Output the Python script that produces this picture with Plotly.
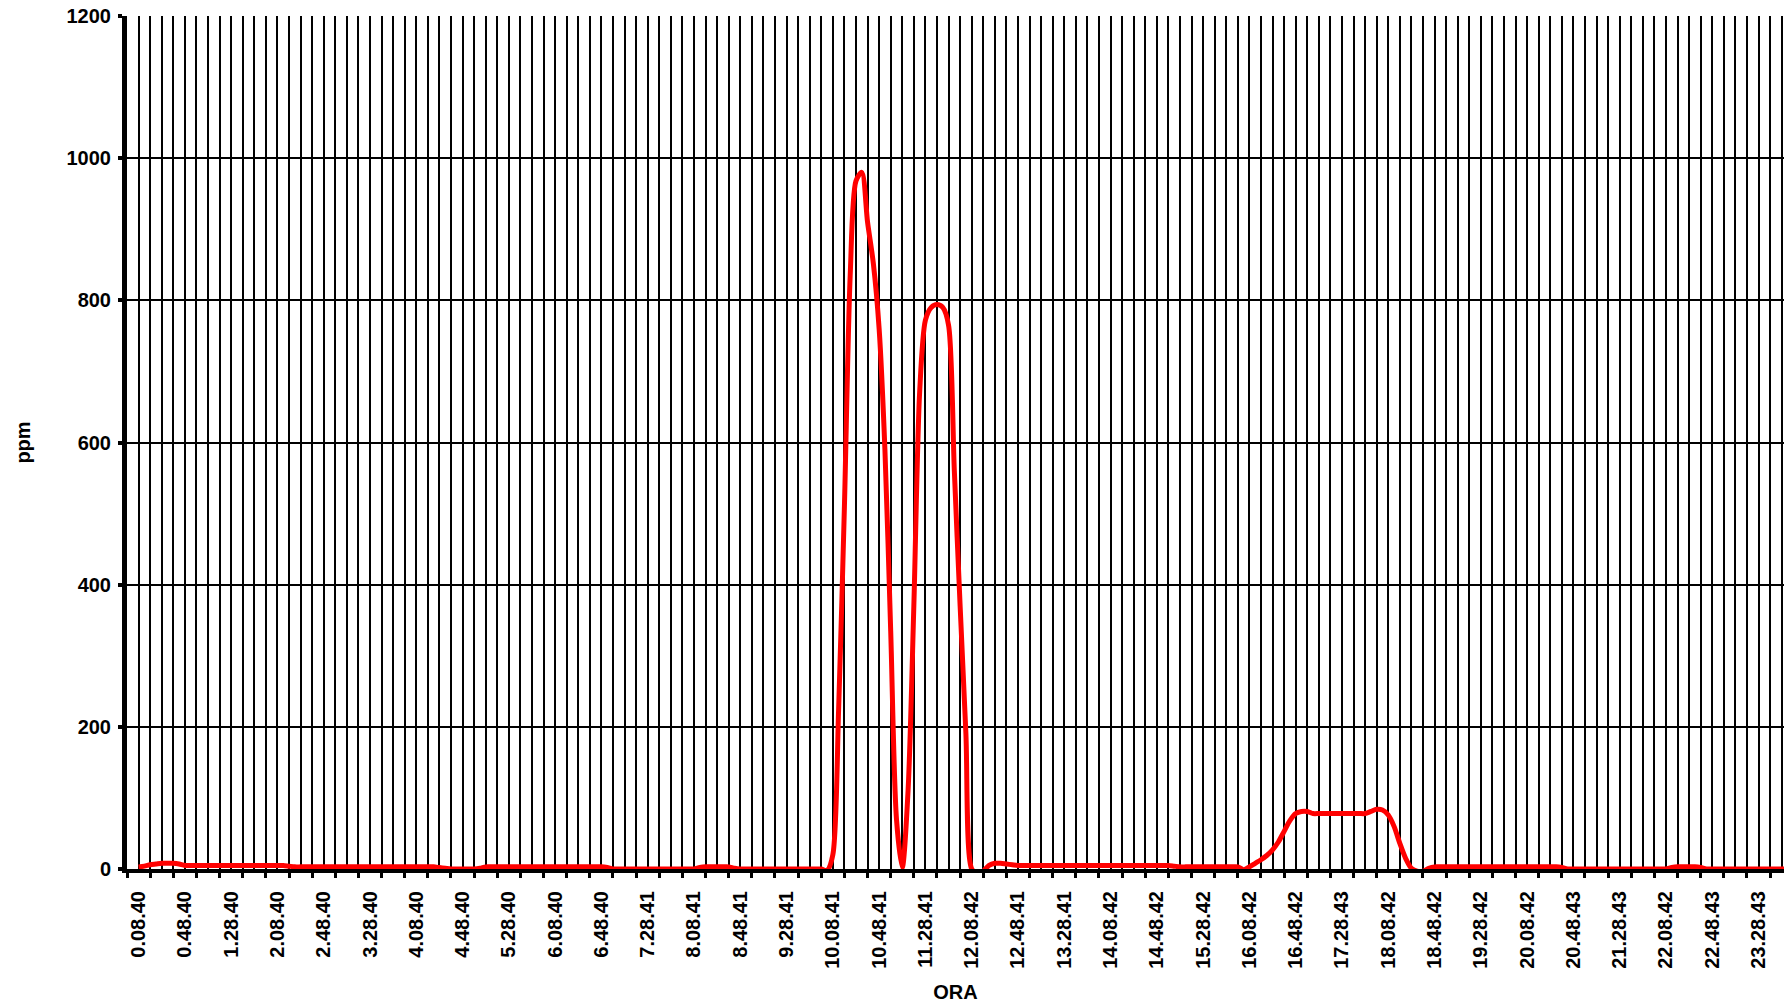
import numpy as np
import plotly.graph_objects as go

# x-axis tick labels (one every 40 minutes, starting at 0.08.40)
tick_labels = [
    "0.08.40", "0.48.40", "1.28.40", "2.08.40", "2.48.40", "3.28.40",
    "4.08.40", "4.48.40", "5.28.40", "6.08.40", "6.48.40", "7.28.41",
    "8.08.41", "8.48.41", "9.28.41", "10.08.41", "10.48.41", "11.28.41",
    "12.08.42", "12.48.41", "13.28.41", "14.08.42", "14.48.42", "15.28.42",
    "16.08.42", "16.48.42", "17.28.43", "18.08.42", "18.48.42", "19.28.42",
    "20.08.42", "20.48.43", "21.28.43", "22.08.42", "22.48.43", "23.28.43",
]

# ppm readings, one every 5 minutes from 0.08.40 (12 per row = 1 hour)
ppm = [
    3, 4, 6, 7, 8, 8, 8, 7, 5, 5, 5, 5,
    5, 5, 5, 5, 5, 5, 5, 5, 5, 5, 5, 5,
    5, 5, 4, 3, 3, 3, 3, 3, 3, 3, 3, 3,
    3, 3, 3, 3, 3, 3, 3, 3, 3, 3, 3, 3,
    3, 3, 3, 3, 2, 1, 0, 0, 0, 0, 0, 1,
    3, 3, 3, 3, 3, 3, 3, 3, 3, 3, 3, 3,
    3, 3, 3, 3, 3, 3, 3, 3, 3, 2, 0, 0,
    0, 0, 0, 0, 0, 0, 0, 0, 0, 0, 0, 0,
    0, 2, 3, 3, 3, 3, 3, 1, 0, 0, 0, 0,
    0, 0, 0, 0, 0, 0, 0, 0, 0, 0, 0, -2,
    20, 225, 510, 835, 968, 980, 910, 852, 760, 590, 335, 70,
    2, 110, 370, 670, 772, 790, 794, 790, 765, 560, 370, 190,
    0, -6, -3, 5, 8, 8, 7, 6, 5, 5, 5, 5,
    5, 5, 5, 5, 5, 5, 5, 5, 5, 5, 5, 5,
    5, 5, 5, 5, 5, 5, 5, 5, 5, 5, 5, 4,
    3, 3, 3, 3, 3, 3, 3, 3, 3, 3, 3, -1,
    3, 8, 13, 19, 27, 38, 53, 68, 78, 81, 81, 78,
    78, 78, 78, 78, 78, 78, 78, 78, 78, 81, 84, 83,
    76, 60, 36, 15, 1, -3, -3, 1, 3, 3, 3, 3,
    3, 3, 3, 3, 3, 3, 3, 3, 3, 3, 3, 3,
    3, 3, 3, 3, 3, 3, 2, 0, 0, 0, 0, 0,
    0, 0, 0, 0, 0, 0, 0, 0, 0, 0, 0, 0,
    0, 2, 3, 3, 3, 3, 2, 0, 0, 0, 0, 0,
    0, 0, 0, 0, 0, 0, 0, 0, 0, 0, 0, 0,
]

sample_step = 5    # minutes between readings
label_step = 40    # minutes between labels
tick_step = 20     # minutes between tick marks

x = np.arange(len(ppm)) * sample_step

major_vals = np.arange(0, len(tick_labels) * label_step, tick_step)
major_text = [tick_labels[int(v // label_step)] if v % label_step == 0 else "" for v in major_vals]
minor_vals = np.arange(-tick_step / 2, len(tick_labels) * label_step + tick_step, tick_step)

FONT = "Liberation Sans, Arial, sans-serif"

fig = go.Figure(
    go.Scatter(
        x=x, y=ppm, mode="lines",
        line=dict(color="#FF0000", width=5, shape="spline", smoothing=0.8),
        hoverinfo="skip",
    )
)

fig.update_layout(
    width=1784, height=1008,
    margin=dict(l=127, r=0, t=16, b=139),
    paper_bgcolor="white", plot_bgcolor="white",
    showlegend=False,
    font=dict(family=FONT, size=20, color="black"),
)

fig.update_xaxes(
    range=[-10, 1422],
    tickmode="array", tickvals=major_vals, ticktext=major_text,
    tickangle=-90, ticks="",
    tickfont=dict(family=FONT, size=20, color="black", weight="bold"),
    ticklabelstandoff=10,
    showgrid=True, gridcolor="black", gridwidth=1.5,
    showline=True, linecolor="black", linewidth=4,
    zeroline=False,
    minor=dict(
        tickmode="array", tickvals=minor_vals,
        ticks="outside", ticklen=5, tickwidth=3, tickcolor="black",
        showgrid=True, gridcolor="black", gridwidth=1.5,
    ),
    title=dict(text="ORA", standoff=18,
               font=dict(family=FONT, size=20, color="black", weight="bold")),
)

fig.update_yaxes(
    range=[0, 1200], dtick=200, tick0=0,
    ticks="outside", ticklen=4, tickwidth=4, tickcolor="black",
    tickfont=dict(family=FONT, size=20, color="black", weight="bold"),
    ticklabelstandoff=3,
    showgrid=True, gridcolor="black", gridwidth=1.5,
    showline=True, linecolor="black", linewidth=5,
    zeroline=False,
    title=dict(text="ppm", standoff=32,
               font=dict(family=FONT, size=20, color="black", weight="bold")),
)

fig.write_html(
    "out.html",
    config={"displayModeBar": False},
    post_script="document.body.style.margin='0';document.body.style.overflow='hidden';",
)
